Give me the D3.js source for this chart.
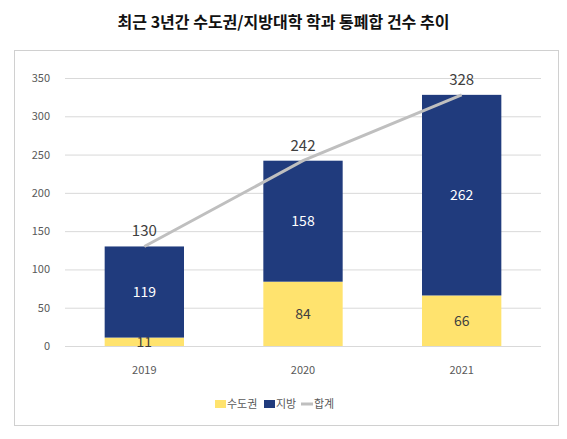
<!DOCTYPE html>
<html>
<head>
<meta charset="utf-8"/>
<script src="https://cdn.jsdelivr.net/npm/d3@7"></script>
<style>
  body { margin: 0; background: #fff; font-family: "Noto Sans CJK KR", "Noto Sans", sans-serif; }
</style>
</head>
<body>
<div id="chart"></div>
<script>
var years = ["2019", "2020", "2021"];
var capital = [11, 84, 66];
var regional = [119, 158, 262];
var total = [130, 242, 328];
var yTicks = [0, 50, 100, 150, 200, 250, 300, 350];

var W = 567, H = 439;
var svg = d3.select("#chart").append("svg").attr("width", W).attr("height", H);

svg.append("text").attr("x", W / 2).attr("y", 28).attr("text-anchor", "middle")
  .attr("font-size", 16).attr("font-weight", "bold").attr("fill", "#111")
  .text("최근 3년간 수도권/지방대학 학과 통폐합 건수 추이");

svg.append("rect").attr("x", 14.5).attr("y", 50.5).attr("width", 544).attr("height", 375)
  .attr("fill", "none").attr("stroke", "#d0d0d0");

var x = d3.scaleBand().domain(years).range([65, 541]).paddingInner(0.5).paddingOuter(0.25);
var y = d3.scaleLinear().domain([0, 350]).range([346, 78]);

// grid
svg.selectAll(".grid").data(yTicks).enter().append("line")
  .attr("x1", 65).attr("x2", 541).attr("y1", d => y(d) + 0.5).attr("y2", d => y(d) + 0.5)
  .attr("stroke", "#d9d9d9");
svg.selectAll(".ytick").data(yTicks).enter().append("text")
  .attr("x", 50).attr("y", d => y(d) + 4).attr("text-anchor", "end")
  .attr("font-size", 11).attr("fill", "#595959").text(d => d);

var g = svg.append("g");
years.forEach(function (yr, i) {
  var bx = x(yr), bw = x.bandwidth();
  g.append("rect").attr("x", bx).attr("width", bw).attr("y", y(capital[i]))
    .attr("height", y(0) - y(capital[i])).attr("fill", "#FFE36E");
  g.append("rect").attr("x", bx).attr("width", bw).attr("y", y(capital[i] + regional[i]))
    .attr("height", y(capital[i]) - y(capital[i] + regional[i])).attr("fill", "#203B7D");
  g.append("text").attr("x", bx + bw / 2).attr("y", y(capital[i] + regional[i] / 2) + 5)
    .attr("text-anchor", "middle").attr("font-size", 14).attr("fill", "#fff").text(regional[i]);
  g.append("text").attr("x", bx + bw / 2).attr("y", y(capital[i] / 2) + 5)
    .attr("text-anchor", "middle").attr("font-size", 14).attr("fill", "#404040").text(capital[i]);
  svg.append("text").attr("x", bx + bw / 2).attr("y", 374).attr("text-anchor", "middle")
    .attr("font-size", 11).attr("fill", "#595959").text(yr);
});

var line = d3.line().x((d, i) => x(years[i]) + x.bandwidth() / 2).y(d => y(d));
svg.append("path").datum(total).attr("d", line).attr("fill", "none")
  .attr("stroke", "#BFBFBF").attr("stroke-width", 3);
svg.selectAll(".tot").data(total).enter().append("text")
  .attr("x", (d, i) => x(years[i]) + x.bandwidth() / 2).attr("y", d => y(d) - 10)
  .attr("text-anchor", "middle").attr("font-size", 15).attr("fill", "#404040").text(d => d);

// legend
var lg = svg.append("g").attr("font-size", 11).attr("fill", "#595959");
lg.append("rect").attr("x", 215).attr("y", 400).attr("width", 11).attr("height", 8).attr("fill", "#FFE36E");
lg.append("text").attr("x", 227).attr("y", 408).text("수도권");
lg.append("rect").attr("x", 264).attr("y", 400).attr("width", 11).attr("height", 8).attr("fill", "#203B7D");
lg.append("text").attr("x", 276).attr("y", 408).text("지방");
lg.append("line").attr("x1", 301).attr("x2", 313).attr("y1", 404).attr("y2", 404)
  .attr("stroke", "#BFBFBF").attr("stroke-width", 3);
lg.append("text").attr("x", 314).attr("y", 408).text("합계");
</script>
</body>
</html>
